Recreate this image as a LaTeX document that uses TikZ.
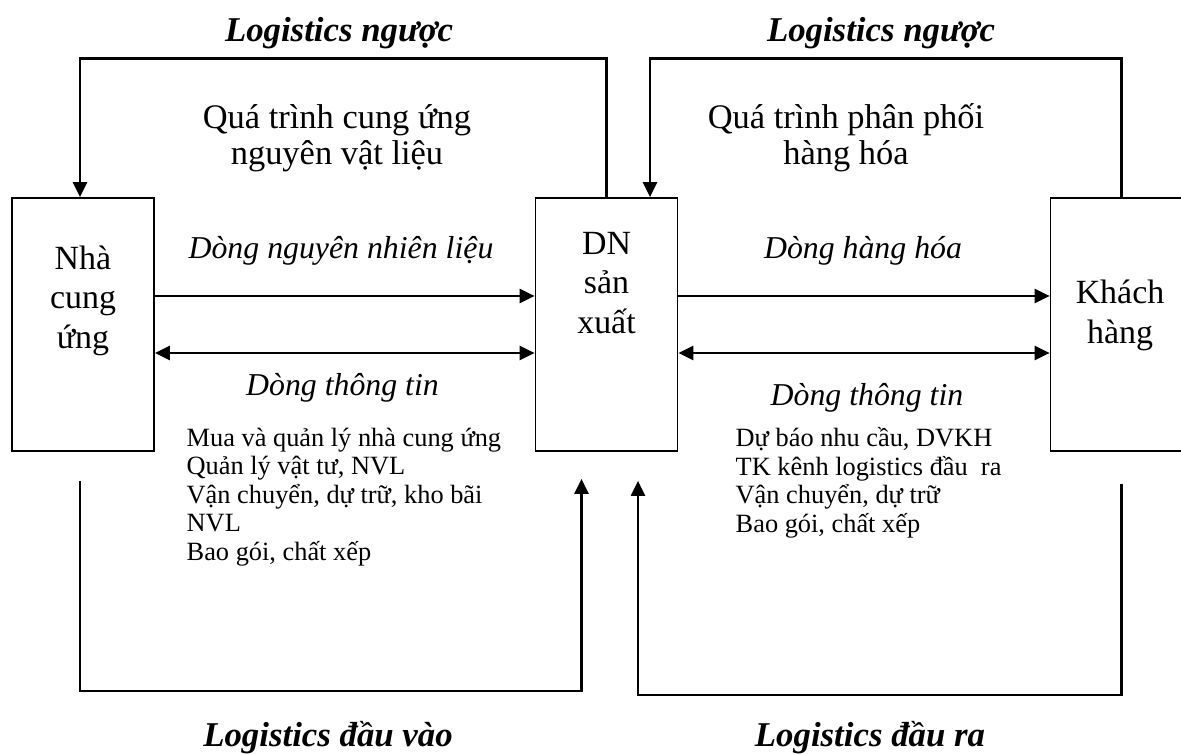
\documentclass[tikz,border=0pt]{standalone}
\usepackage{fontspec}
\setmainfont{Liberation Serif}
\usetikzlibrary{arrows.meta, calc}

\begin{document}
\begin{tikzpicture}[thick,
  hop/.style={draw, line width=1pt, minimum width=2.84cm, minimum height=5.06cm, inner sep=0pt},
  flow/.style={line width=1.3pt, -{Triangle[length=0.3cm,width=0.28cm]}},
  flowtwo/.style={line width=1.3pt, {Triangle[length=0.3cm,width=0.28cm]}-{Triangle[length=0.3cm,width=0.28cm]}},
  tieude/.style={font=\fontsize{19.8}{23}\selectfont\bfseries\itshape, anchor=base, inner sep=0pt},
  quatrinh/.style={font=\fontsize{19.6}{21}\selectfont, align=center, anchor=base, inner sep=0pt},
  dong/.style={font=\fontsize{18.1}{21}\selectfont\itshape, anchor=base, inner sep=0pt},
  ds/.style={font=\fontsize{15}{16.2}\selectfont, align=left, anchor=base west, inner sep=0pt},
  chu/.style={font=\fontsize{19.3}{22.2}\selectfont, align=center, anchor=base, inner sep=0pt}]
  \useasboundingbox (0,0) rectangle (23.62,15.06);
  % ba khoi chinh
  \node[hop] (ncu) at (1.66,8.57) {};
  \node[hop] (dnsx) at (12.13,8.57) {};
  \node[hop] (kh) at (22.43,8.57) {};
  % chu nhieu dong: base = dong cuoi
  \node[chu] (ncuText) at (1.66,8.10) {Nhà\\cung\\ứng};
  \node[chu] (dnsxText) at (12.13,8.40) {DN\\sản\\xuất};
  \node[chu] (khText) at (22.40,8.20) {Khách\\hàng};
  % dong vat chat va dong thong tin
  \draw[flow] ([yshift=0.57cm]ncu.east) -- ([yshift=0.57cm]dnsx.west);
  \draw[flowtwo] ([yshift=-0.57cm]ncu.east) -- ([yshift=-0.57cm]dnsx.west);
  \draw[flow] ([yshift=0.57cm]dnsx.east) -- ([yshift=0.57cm]kh.west);
  \draw[flowtwo] ([yshift=-0.57cm]dnsx.east) -- ([yshift=-0.57cm]kh.west);
  % logistics nguoc: di len 2.77cm roi quay ve
  \draw[flow] (dnsx.north) -- ++(0,2.77) -| ([xshift=-0.06cm]ncu.north);
  \draw[flow] (kh.north) -- ++(0,2.77) -| ([xshift=0.87cm]dnsx.north);
  % logistics dau vao / dau ra (khong cham khoi)
  \coordinate (vaoA) at ([xshift=-0.06cm,yshift=-0.58cm]ncu.south);
  \coordinate (vaoB) at ([xshift=-0.5cm,yshift=-0.54cm]dnsx.south);
  \coordinate (raA) at ([yshift=-0.64cm]kh.south);
  \coordinate (raB) at ([xshift=0.63cm,yshift=-0.58cm]dnsx.south);
  \draw[flow] (vaoA) -- ++(0,-4.2) -| (vaoB);
  \draw[flow] (raA) -- ++(0,-4.22) -| (raB);
  % nhan
  \node[tieude] (nguocL) at (6.78,14.22) {Logistics ngược};
  \node[tieude] (nguocR) at (17.62,14.22) {Logistics ngược};
  \node[quatrinh] (cungung) at (6.74,11.76) {Quá trình cung ứng\\nguyên vật liệu};
  \node[quatrinh] (phanphoi) at (16.92,11.76) {Quá trình phân phối\\hàng hóa};
  \node[dong] (nnl) at (6.82,9.90) {Dòng nguyên nhiên liệu};
  \node[dong] (hh) at (17.26,9.90) {Dòng hàng hóa};
  \node[dong] (ttL) at (6.85,7.16) {Dòng thông tin};
  \node[dong] (ttR) at (17.34,6.96) {Dòng thông tin};
  \node[ds] (dsL) at (3.72,3.86) {Mua và quản lý nhà cung ứng\\Quản lý vật tư, NVL\\Vận chuyển, dự trữ, kho bãi\\NVL\\Bao gói, chất xếp};
  \node[ds] (dsR) at (14.70,4.42) {Dự báo nhu cầu, DVKH\\TK kênh logistics đầu\ \ ra\\Vận chuyển, dự trữ\\Bao gói, chất xếp};
  \node[tieude] (vao) at (6.56,0.14) {Logistics đầu vào};
  \node[tieude] (ra) at (17.40,0.14) {Logistics đầu ra};
\end{tikzpicture}
\end{document}
